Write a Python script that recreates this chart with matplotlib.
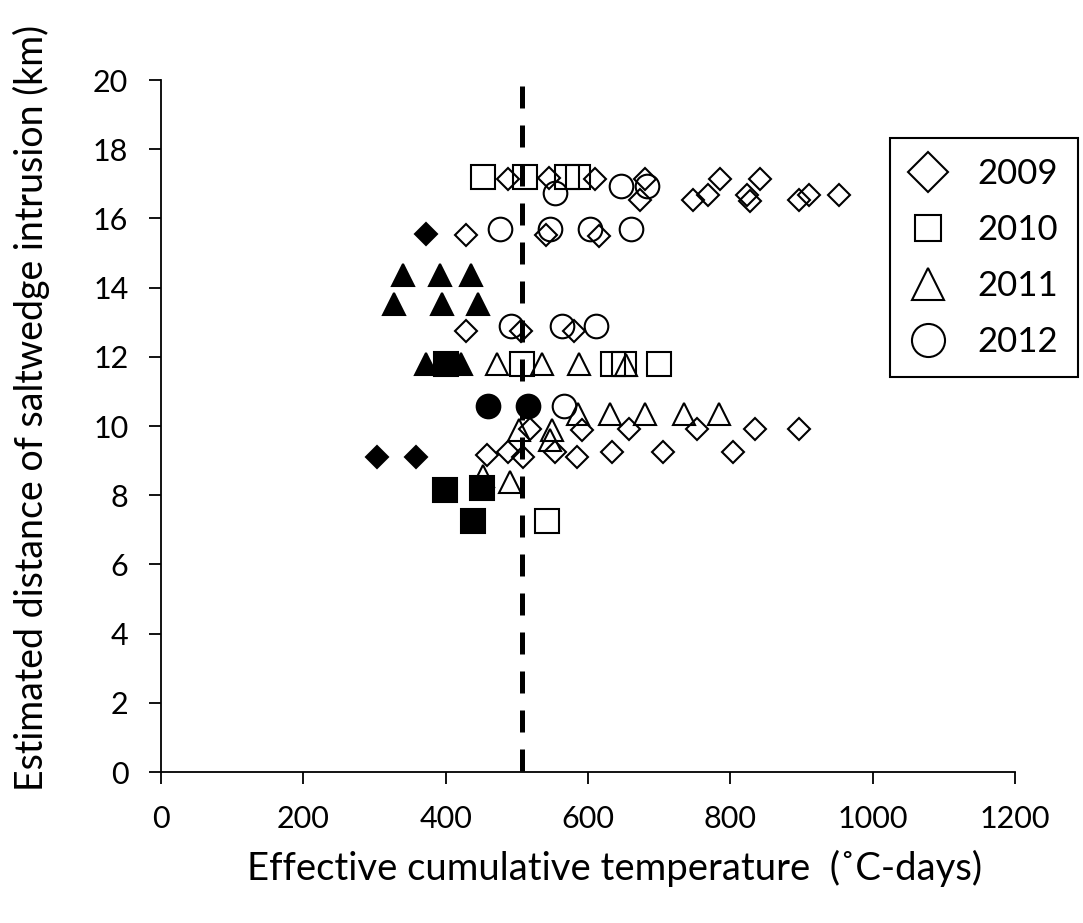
import matplotlib
matplotlib.use('Agg')
import matplotlib.pyplot as plt
from matplotlib.lines import Line2D

# 2009 (diamonds)
x09 = [487, 545, 610, 680, 786, 842, 673, 748, 769, 823, 828, 896, 910, 953,
       429, 541, 615, 429, 506, 580, 519, 591, 657, 753, 834, 896,
       458, 488, 509, 554, 584, 634, 705, 804]
y09 = [17.15, 17.18, 17.15, 17.15, 17.15, 17.15, 16.54, 16.53, 16.67, 16.67, 16.5, 16.53, 16.67, 16.67,
       15.53, 15.53, 15.48, 12.74, 12.74, 12.74, 9.92, 9.88, 9.9, 9.9, 9.9, 9.9,
       9.15, 9.25, 9.1, 9.25, 9.1, 9.25, 9.25, 9.25]
x09_f = [372, 303, 358]
y09_f = [15.55, 9.1, 9.1]

# 2010 (squares)
x10 = [453, 512, 571, 586, 507, 635, 650, 700, 542]
y10 = [17.2, 17.2, 17.2, 17.2, 11.8, 11.8, 11.8, 11.8, 7.24]
x10_f = [401, 399, 451, 438]
y10_f = [11.8, 8.16, 8.2, 7.24]

# 2011 (triangles)
x11 = [472, 535, 587, 654, 586, 631, 680, 735, 784, 503, 549, 547, 453, 491]
y11 = [11.8, 11.8, 11.8, 11.75, 10.35, 10.36, 10.36, 10.36, 10.36, 9.87, 9.87, 9.6, 8.55, 8.37]
x11_f = [340, 392, 435, 328, 395, 445, 373, 422]
y11_f = [14.36, 14.36, 14.36, 13.54, 13.54, 13.54, 11.8, 11.8]

# 2012 (circles)
x12 = [554, 647, 683, 477, 546, 603, 660, 492, 563, 611, 566]
y12 = [16.72, 16.94, 16.94, 15.68, 15.68, 15.68, 15.68, 12.9, 12.9, 12.9, 10.59]
x12_f = [459, 516]
y12_f = [10.59, 10.59]

threshold = 507
years = ['2009', '2010', '2011', '2012']

font = 'Lato'

fig = plt.figure(figsize=(10.83, 9.23), dpi=100)
ax = fig.add_axes([161 / 1083, 1 - 772 / 923, (1015 - 161) / 1083, (772 - 80) / 923])

ew = 1.5
ax.plot(x09, y09, 'D', ms=11.7, mfc='none', mec='black', mew=ew)
ax.plot(x09_f, y09_f, 'D', ms=11.7, mfc='black', mec='black', mew=ew)
ax.plot(x10, y10, 's', ms=17.0, mfc='none', mec='black', mew=ew)
ax.plot(x10_f, y10_f, 's', ms=17.0, mfc='black', mec='black', mew=ew)
ax.plot(x11, y11, '^', ms=16.5, mfc='none', mec='black', mew=ew)
ax.plot(x11_f, y11_f, '^', ms=16.5, mfc='black', mec='black', mew=ew)
ax.plot(x12, y12, 'o', ms=17.0, mfc='none', mec='black', mew=ew)
ax.plot(x12_f, y12_f, 'o', ms=17.0, mfc='black', mec='black', mew=ew)

ax.plot([threshold, threshold], [20, 0], color='black', lw=3.6,
        linestyle=(6.6, (4.4, 3.4)))

ax.set_xlim(0, 1200)
ax.set_ylim(0, 20)
ax.set_xticks(range(0, 1201, 200))
ax.set_yticks(range(0, 21, 2))
for s in ['top', 'right']:
    ax.spines[s].set_visible(False)
for s in ['left', 'bottom']:
    ax.spines[s].set_linewidth(1.3)
ax.tick_params(direction='out', length=8.5, width=1.3, labelsize=22)
ax.tick_params(axis='x', pad=15)
ax.tick_params(axis='y', pad=15)
for lab in ax.get_xticklabels() + ax.get_yticklabels():
    lab.set_fontfamily(font)

fig.text(615 / 1083, 1 - 868 / 923, 'Effective cumulative temperature  (\u02daC-days)',
         ha='center', va='center', fontsize=27.5, family=font)
fig.text(31 / 1083, 1 - 408 / 923, 'Estimated distance of saltwedge intrusion (km)',
         ha='center', va='center', rotation=90, fontsize=27, family=font)

handles = [
    Line2D([], [], marker='D', ms=20.5, mfc='none', mec='black', mew=ew, linestyle='none'),
    Line2D([], [], marker='s', ms=19.4, mfc='none', mec='black', mew=ew, linestyle='none'),
    Line2D([], [], marker='^', ms=23, mfc='none', mec='black', mew=ew, linestyle='none'),
    Line2D([], [], marker='o', ms=23.8, mfc='none', mec='black', mew=ew, linestyle='none'),
]
leg = fig.legend(handles, years, loc='upper left', bbox_to_anchor=(890 / 1083, 1 - 138 / 923),
                 frameon=True, fancybox=False, framealpha=1, edgecolor='black',
                 borderaxespad=0, borderpad=0.57, handlelength=1.06, handletextpad=0.9,
                 labelspacing=0.69, numpoints=1, prop={'family': font, 'size': 25})
leg.get_frame().set_linewidth(1.5)

fig.savefig('out.png', dpi=100)
